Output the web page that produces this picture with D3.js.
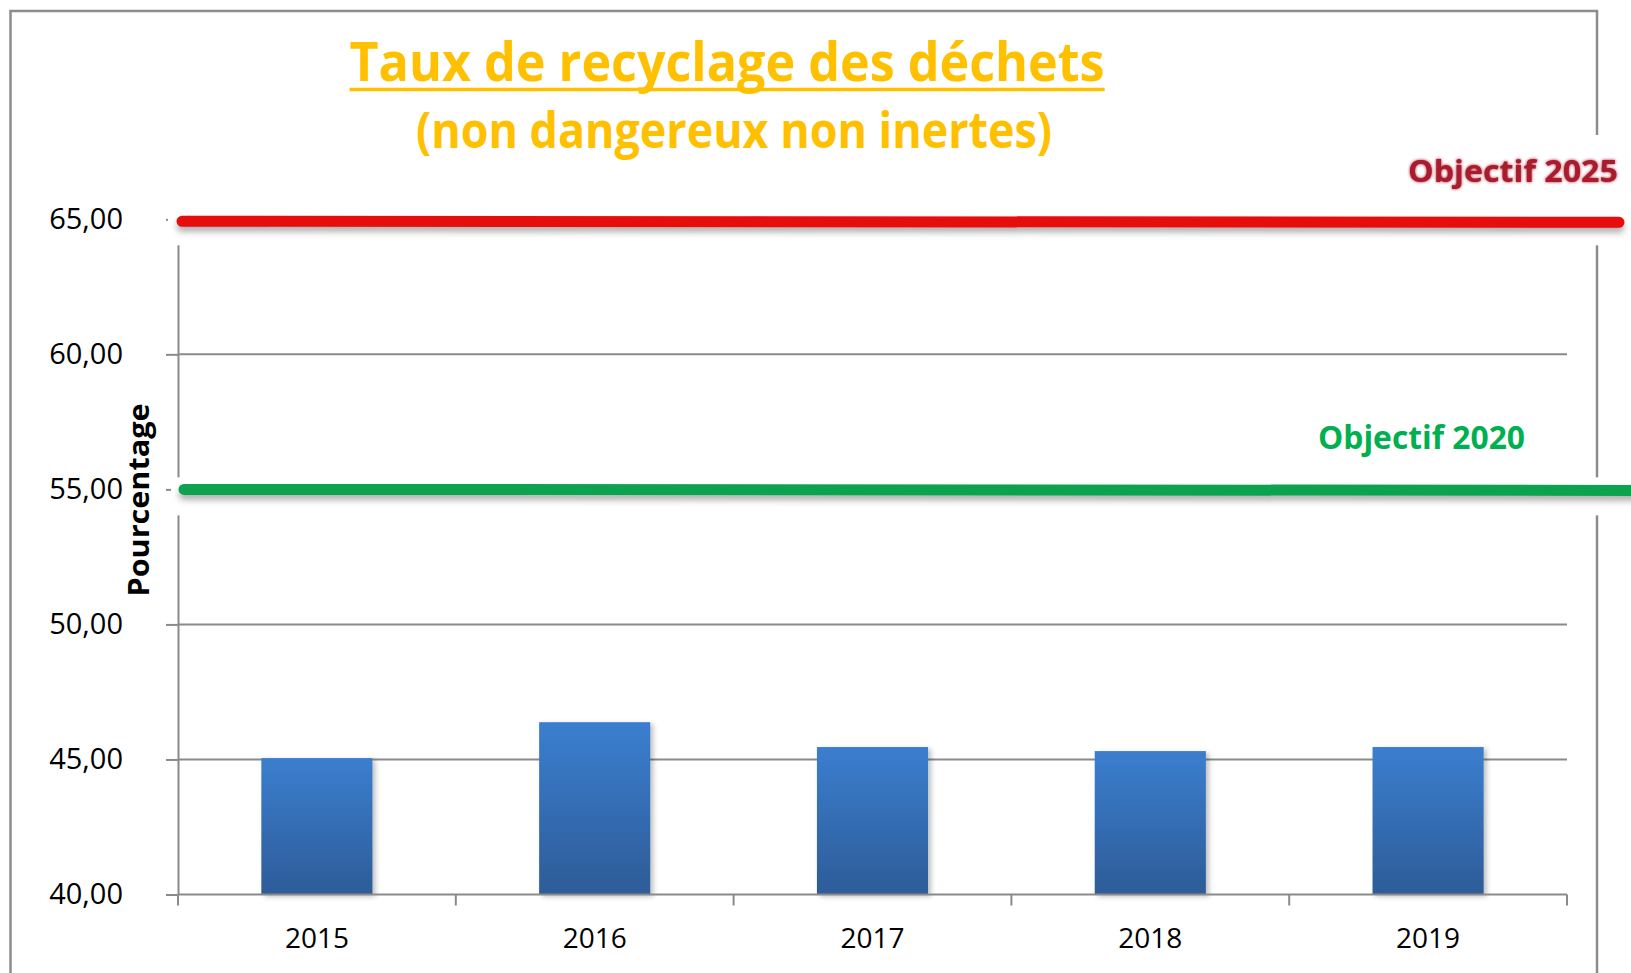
<!DOCTYPE html>
<html>
<head>
<meta charset="utf-8">
<script src="https://cdn.jsdelivr.net/npm/d3@7"></script>
<style>
  body { margin: 0; background: #fff; }
  svg { display: block; font-family: "Open Sans", sans-serif; }
</style>
</head>
<body>
<div id="chart"></div>
<script>
// données
const years = ['2015', '2016', '2017', '2018', '2019'];
const taux = [45.05, 46.38, 45.46, 45.31, 45.46];
const yTicks = [40, 45, 50, 55, 60, 65];
const objectifs = [65, 55];
const objectifLabels = ['Objectif 2025', 'Objectif 2020'];

const width = 1631;
const height = 973;

const svg = d3.select('#chart').append('svg')
  .attr('width', width)
  .attr('height', height);

const defs = svg.append('defs');
const grad = defs.append('linearGradient')
  .attr('id', 'barGrad')
  .attr('x1', 0).attr('y1', 0).attr('x2', 0).attr('y2', 1);
grad.append('stop').attr('offset', '0%').attr('stop-color', '#3b7ecf');
grad.append('stop').attr('offset', '100%').attr('stop-color', '#2d5c98');

const shadow = defs.append('filter').attr('id', 'barShadow')
  .attr('x', '-10%').attr('y', '-10%').attr('width', '130%').attr('height', '130%');
shadow.append('feDropShadow')
  .attr('dx', 3).attr('dy', 2).attr('stdDeviation', 2.5)
  .attr('flood-color', '#000').attr('flood-opacity', 0.25);

// lignes horizontales : bbox de hauteur nulle, donc région en userSpaceOnUse
const lineShadow = defs.append('filter').attr('id', 'lineShadow')
  .attr('filterUnits', 'userSpaceOnUse')
  .attr('x', 0).attr('y', 0).attr('width', width).attr('height', height);
lineShadow.append('feDropShadow')
  .attr('dx', 0).attr('dy', 5).attr('stdDeviation', 3)
  .attr('flood-color', '#000').attr('flood-opacity', 0.3);

const glow = defs.append('filter').attr('id', 'glow')
  .attr('x', '-10%').attr('y', '-30%').attr('width', '120%').attr('height', '160%');
glow.append('feGaussianBlur').attr('in', 'SourceGraphic').attr('stdDeviation', 1.6).attr('result', 'b');
const merge = glow.append('feMerge');
merge.append('feMergeNode').attr('in', 'b');
merge.append('feMergeNode').attr('in', 'SourceGraphic');

// cadre
svg.append('rect')
  .attr('x', 10.5).attr('y', 11)
  .attr('width', 1586.5).attr('height', 1000)
  .attr('fill', '#fff')
  .attr('stroke', '#8c8c8c')
  .attr('stroke-width', 2.5);

// échelles
const plotLeft = 178;
const plotRight = 1567;
const y = d3.scaleLinear().domain([40, 65]).range([894.5, 219.3]);
const xCat = d3.scaleBand().domain(years).range([plotLeft, plotRight]).padding(0);
const x = d3.scaleBand().domain(years).range([plotLeft, plotRight])
  .paddingInner(0.6).paddingOuter(0.3);

// grille
svg.append('g')
  .selectAll('line')
  .data(yTicks.slice(1))
  .enter()
  .append('line')
  .attr('x1', plotLeft).attr('x2', plotRight)
  .attr('y1', (d) => y(d)).attr('y2', (d) => y(d))
  .attr('stroke', '#8a8a8a')
  .attr('stroke-width', 2);

// axe Y
const yAxis = svg.append('g')
  .attr('transform', `translate(${plotLeft},0)`)
  .call(d3.axisLeft(y)
    .tickValues(yTicks)
    .tickSize(12)
    .tickSizeOuter(0)
    .tickPadding(43)
    .tickFormat((d) => d.toFixed(2).replace('.', ',')));
yAxis.select('.domain').attr('stroke', '#8a8a8a').attr('stroke-width', 2);
yAxis.selectAll('.tick line').attr('stroke', '#8a8a8a').attr('stroke-width', 2);
yAxis.selectAll('.tick text')
  .attr('font-size', 29)
  .attr('font-family', '"Open Sans", sans-serif')
  .attr('fill', '#000');

// barres
svg.append('g')
  .selectAll('rect')
  .data(taux)
  .enter()
  .append('rect')
  .attr('x', (d, i) => x(years[i]))
  .attr('width', x.bandwidth())
  .attr('y', (d) => y(d))
  .attr('height', (d) => y(40) - y(d))
  .attr('fill', 'url(#barGrad)')
  .attr('filter', 'url(#barShadow)');

// axe X
const xAxis = svg.append('g');
xAxis.append('line')
  .attr('x1', plotLeft).attr('x2', plotRight)
  .attr('y1', y(40)).attr('y2', y(40))
  .attr('stroke', '#8a8a8a').attr('stroke-width', 2);
xAxis.selectAll('.bound')
  .data(years.map((d) => xCat(d)).concat([plotRight]))
  .enter()
  .append('line')
  .attr('class', 'bound')
  .attr('x1', (d) => d).attr('x2', (d) => d)
  .attr('y1', y(40)).attr('y2', y(40) + 11)
  .attr('stroke', '#8a8a8a').attr('stroke-width', 2);
xAxis.selectAll('text')
  .data(years)
  .enter()
  .append('text')
  .attr('x', (d) => xCat(d) + xCat.bandwidth() / 2)
  .attr('y', 948)
  .attr('text-anchor', 'middle')
  .attr('font-size', 28)
  .attr('fill', '#000')
  .text((d) => d);

// titre axe Y
svg.append('text')
  .attr('transform', 'translate(149,500) rotate(-90)')
  .attr('text-anchor', 'middle')
  .attr('font-size', 28)
  .attr('font-weight', 700)
  .attr('textLength', 193)
  .attr('lengthAdjust', 'spacingAndGlyphs')
  .text('Pourcentage');

// objectifs : fonds blancs
svg.append('rect')
  .attr('x', 1382).attr('y', 135)
  .attr('width', width - 1382).attr('height', 80)
  .attr('fill', '#fff');
svg.selectAll('.objBox')
  .data(objectifs)
  .enter()
  .append('rect')
  .attr('class', 'objBox')
  .attr('x', (d, i) => (i ? 171 : 168))
  .attr('y', (d) => y(d) - 12)
  .attr('width', (d, i) => width - (i ? 171 : 168))
  .attr('height', 38)
  .attr('fill', '#fff');

// lignes objectifs
svg.selectAll('.objLine')
  .data(objectifs)
  .enter()
  .append('line')
  .attr('class', 'objLine')
  .attr('x1', (d, i) => (i ? 184 : 182))
  .attr('x2', (d, i) => (i ? 1640 : 1619))
  .attr('y1', (d, i) => y(d) + (i ? 0 : 2))
  .attr('y2', (d, i) => y(d) + (i ? 1 : 3))
  .attr('stroke', (d, i) => (i ? '#0da24f' : '#e6090c'))
  .attr('stroke-width', 11)
  .attr('stroke-linecap', 'round')
  .attr('filter', 'url(#lineShadow)');

// étiquettes objectifs
svg.append('text')
  .attr('x', 1408).attr('y', 182)
  .attr('font-size', 30)
  .attr('font-weight', 700)
  .attr('textLength', 210)
  .attr('lengthAdjust', 'spacingAndGlyphs')
  .attr('fill', '#a81a2d')
  .attr('filter', 'url(#glow)')
  .text(objectifLabels[0]);
svg.append('text')
  .attr('x', 1318).attr('y', 449)
  .attr('font-size', 33)
  .attr('font-weight', 700)
  .attr('textLength', 207)
  .attr('lengthAdjust', 'spacingAndGlyphs')
  .attr('fill', '#00b050')
  .text(objectifLabels[1]);

// titre
svg.append('text')
  .attr('x', 727).attr('y', 81)
  .attr('text-anchor', 'middle')
  .attr('font-size', 54)
  .attr('font-weight', 700)
  .attr('textLength', 755)
  .attr('lengthAdjust', 'spacingAndGlyphs')
  .attr('fill', '#ffc000')
  .text('Taux de recyclage des déchets');
svg.append('line')
  .attr('x1', 349.5).attr('x2', 1104.7)
  .attr('y1', 89.5).attr('y2', 89.5)
  .attr('stroke', '#ffc000')
  .attr('stroke-width', 3.5);
svg.append('text')
  .attr('x', 734).attr('y', 148)
  .attr('text-anchor', 'middle')
  .attr('font-size', 50)
  .attr('font-weight', 700)
  .attr('textLength', 636)
  .attr('lengthAdjust', 'spacingAndGlyphs')
  .attr('fill', '#ffc000')
  .text('(non dangereux non inertes)');
</script>
</body>
</html>
